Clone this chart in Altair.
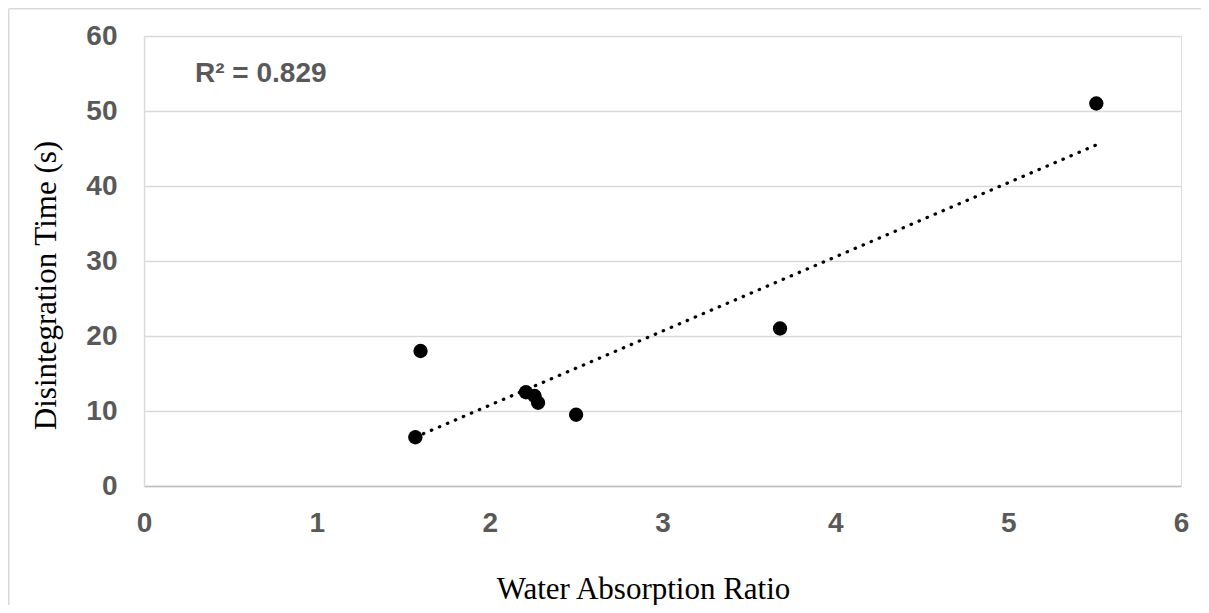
import altair as alt
import pandas as pd

# Data
water_ratio = [1.57, 1.60, 2.21, 2.26, 2.28, 2.50, 3.68, 5.51]
disint_time = [6.5, 18.0, 12.5, 12.0, 11.1, 9.5, 21.0, 51.0]
x_ticks = [0, 1, 2, 3, 4, 5, 6]
y_ticks = [0, 10, 20, 30, 40, 50, 60]
r2_label = "R² = 0.829"

df = pd.DataFrame({"x": water_ratio, "y": disint_time})
one = pd.DataFrame({"k": [0]})

W, H = 1037, 450
PL, PT, PR, PB = 136, 28, 20, 119

x_scale = alt.Scale(domain=[0, 6], nice=False, zero=True)
y_scale = alt.Scale(domain=[0, 60], nice=False, zero=True)

x_axis = alt.Axis(
    values=x_ticks, format="d", grid=False, ticks=False, domainColor="#bfbfbf", domainWidth=1.5,
    labelFont="Liberation Sans", labelFontSize=28, labelFontWeight="bold", labelColor="#595959",
    labelPadding=23, labelFlush=False,
    title="Water Absorption Ratio", titleFont="Liberation Serif", titleFontSize=31,
    titleFontWeight="normal", titleColor="#000000", titleX=499, titleY=112,
    titleAlign="center", titleBaseline="alphabetic",
)
y_axis = alt.Axis(
    values=y_ticks, format="d", grid=True, gridColor="#d9d9d9", gridWidth=1.5, ticks=False,
    domainColor="#d9d9d9", domainWidth=1.5,
    labelFont="Liberation Sans", labelFontSize=28, labelFontWeight="bold", labelColor="#595959",
    labelPadding=27, labelFlush=False,
    title="Disintegration Time (s)", titleFont="Liberation Serif", titleFontSize=31,
    titleFontWeight="normal", titleColor="#000000", titleX=-89, titleY=249,
    titleAlign="center", titleBaseline="alphabetic", titleAngle=270,
)

base = alt.Chart(df)

points = base.mark_point(filled=True, color="#000000", opacity=1, size=205).encode(
    x=alt.X("x:Q", scale=x_scale, axis=x_axis),
    y=alt.Y("y:Q", scale=y_scale, axis=y_axis),
)

trend = base.transform_regression("x", "y").mark_line(
    color="#000000", strokeWidth=3.2, strokeCap="round", strokeDash=[0.5, 8.2]
).encode(
    x=alt.X("x:Q", scale=x_scale),
    y=alt.Y("y:Q", scale=y_scale),
)

r2 = alt.Chart(one).mark_text(
    text=r2_label, font="Liberation Sans", fontSize=28, fontWeight="bold",
    color="#595959", align="left", baseline="alphabetic",
).encode(x=alt.value(51), y=alt.value(46))

border_left = alt.Chart(one).mark_rule(color="#d9d9d9", strokeWidth=1.5).encode(
    x=alt.value(-PL + 0.75), y=alt.value(-PT + 0.75), y2=alt.value(H + PB)
)
border_top = alt.Chart(one).mark_rule(color="#d9d9d9", strokeWidth=1.5).encode(
    x=alt.value(-PL + 0.75), x2=alt.value(W + PR), y=alt.value(-PT + 0.75)
)

chart = alt.layer(border_left, border_top, points, trend, r2).properties(
    width=W, height=H,
    autosize=alt.AutoSizeParams(type="none"),
    padding={"left": PL, "top": PT, "right": PR, "bottom": PB},
).configure_view(stroke=None).configure(background="#ffffff")

chart.save("out.html", embed_options={"renderer": "svg", "actions": False})
